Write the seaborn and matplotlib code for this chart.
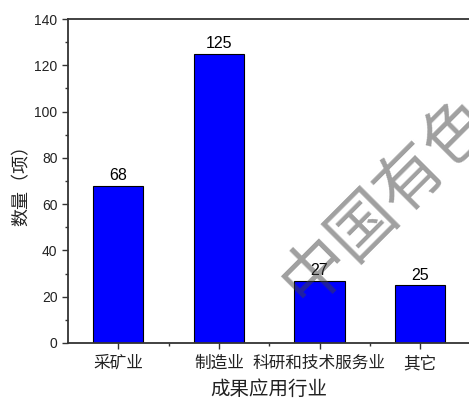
import matplotlib
matplotlib.use("Agg")
import matplotlib.pyplot as plt
from matplotlib.ticker import MultipleLocator, FixedLocator
import seaborn as sns
import pandas as pd

categories = ["采矿业", "制造业", "科研和技术服务业", "其它"]
counts = [68, 125, 27, 25]
y_ticks = [0, 20, 40, 60, 80, 100, 120, 140]

sns.set_theme(style="ticks")
plt.rcParams["font.family"] = ["Liberation Sans", "Noto Sans CJK SC", "DejaVu Sans"]

df = pd.DataFrame({"industry": categories, "count": counts})

fig = plt.figure(figsize=(4.69, 4.0), dpi=100)
ax = fig.add_axes([0.145, 0.1425, 0.858, 0.81])

sns.barplot(data=df, x="industry", y="count", color="#0000FF", saturation=1,
            width=0.5, edgecolor="black", linewidth=0.8, ax=ax)

for i, v in enumerate(counts):
    ax.text(i, v + 1.0, str(v), ha="center", va="bottom", fontsize=11.5, color="black")

ax.set_xlim(-0.5, 3.5)
ax.set_ylim(0, 140)
ax.set_yticks(y_ticks)
ax.yaxis.set_minor_locator(MultipleLocator(10))
ax.xaxis.set_minor_locator(FixedLocator([0.5, 1.5, 2.5]))

ax.tick_params(axis="both", which="major", direction="out", length=4, width=1.0,
               color="#333333", labelsize=10, labelcolor="#222222")
ax.tick_params(axis="both", which="minor", direction="out", length=2.5, width=1.0,
               color="#333333")
ax.tick_params(axis="x", labelsize=12, pad=5)

for side in ["left", "bottom", "top"]:
    ax.spines[side].set_color("#333333")
    ax.spines[side].set_linewidth(1.3)
ax.spines["right"].set_visible(False)
ax.spines["top"].set_visible(True)

ax.set_xlabel("成果应用行业", fontsize=14, color="#222222", labelpad=6)
ax.set_ylabel("数量（项）", fontsize=13, color="#222222", labelpad=3)

fig.text(0.625, 0.265, "中国有色金属学报", fontsize=48, rotation=45,
         rotation_mode="anchor", ha="left", va="center",
         color="#404040", alpha=0.5, family=["Noto Sans CJK SC"], zorder=10)

fig.savefig("out.png", dpi=100)
